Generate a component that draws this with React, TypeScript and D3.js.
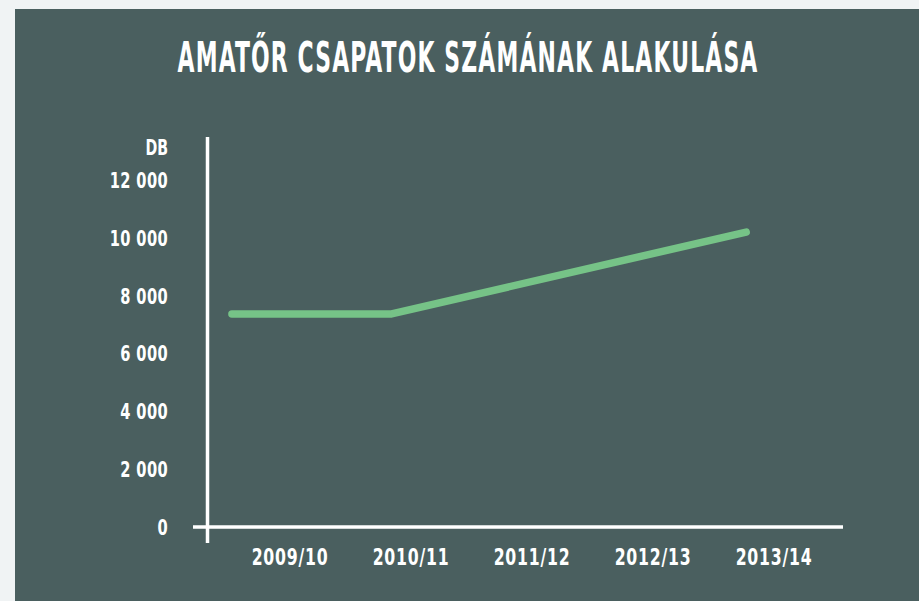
import React from "react";
import * as d3 from "d3";

const seasons = ["2009/10", "2010/11", "2011/12", "2012/13", "2013/14"];
const yTicks = [0, 2000, 4000, 6000, 8000, 10000, 12000];
// line series: position along the season axis (index units) and value
const linePos = [-0.48, 0.84, 3.77];
const lineValues = [7370, 7370, 10200];
const title = "AMATŐR CSAPATOK SZÁMÁNAK ALAKULÁSA";
const unitLabel = "DB";

const W = 919;
const H = 601;
const FONT = "'DejaVu Sans Condensed', 'DejaVu Sans', sans-serif";

export default function App() {
  const x = d3.scaleLinear().domain([0, 4]).range([290, 774]);
  const y = d3.scaleLinear().domain([0, 12000]).range([527, 180]);
  const fmt = (v: number) => d3.format(",")(v).replace(/,/g, " ");
  const pts = linePos.map((p, i) => [x(p), y(lineValues[i])] as [number, number]);
  const line = d3.line()(pts) || "";

  return (
    <svg
      width={W}
      height={H}
      style={{ position: "absolute", left: 0, top: 0, display: "block" }}
    >
      <rect x={0} y={0} width={W} height={H} fill="#f0f3f4" />
      <rect x={15} y={9} width={W - 15} height={H - 9} fill="#4a5f5f" />
      <g transform="translate(468,72) scale(0.58,1)">
        <text
          x={0}
          y={0}
          textAnchor="middle"
          fill="#ffffff"
          fontFamily={FONT}
          fontWeight="bold"
          fontSize={42}
          letterSpacing={2}
        >
          {title}
        </text>
      </g>
      <g transform="translate(168,155) scale(0.75,1)">
        <text
          textAnchor="end"
          fill="#ffffff"
          fontFamily={FONT}
          fontWeight="bold"
          fontSize={21}
        >
          {unitLabel}
        </text>
      </g>
      {yTicks.map((t) => (
        <g key={t} transform={`translate(168,${y(t)}) scale(0.74,1)`}>
          <text
            dy="0.36em"
            textAnchor="end"
            fill="#ffffff"
            fontFamily={FONT}
            fontWeight="bold"
            fontSize={22}
            letterSpacing={0.5}
          >
            {fmt(t)}
          </text>
        </g>
      ))}
      {seasons.map((s, i) => (
        <g key={s} transform={`translate(${x(i)},565) scale(0.76,1)`}>
          <text
            textAnchor="middle"
            fill="#ffffff"
            fontFamily={FONT}
            fontWeight="bold"
            fontSize={23}
            letterSpacing={1}
          >
            {s}
          </text>
        </g>
      ))}
      <line x1={207.5} x2={207.5} y1={137} y2={543} stroke="#ffffff" strokeWidth={3.5} />
      <line x1={193} x2={843} y1={527} y2={527} stroke="#ffffff" strokeWidth={3.5} />
      <path
        d={line}
        fill="none"
        stroke="#76c387"
        strokeWidth={7.5}
        strokeLinecap="round"
        strokeLinejoin="round"
      />
    </svg>
  );
}
